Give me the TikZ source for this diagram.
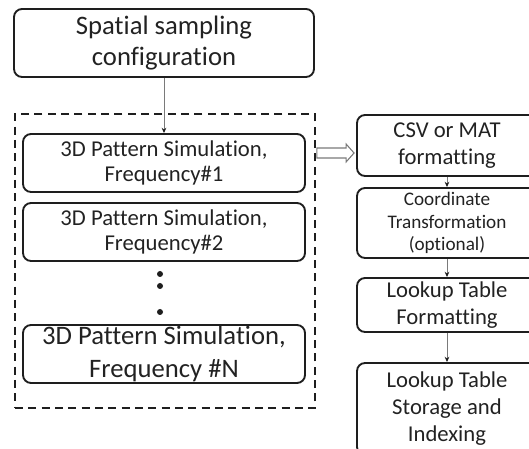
\documentclass[tikz,border=0pt]{standalone}
\usepackage{fontspec}
\setmainfont{Carlito}[Ligatures={NoCommon}]
\usetikzlibrary{arrows.meta,calc}

\definecolor{ink}{HTML}{1E1E1E}
\definecolor{txt}{HTML}{222222}
\definecolor{wire}{HTML}{7A7A7A}

\tikzset{
  box/.style={draw=ink, line width=1.4pt, rounded corners=6pt, align=center,
    text=txt, inner sep=0pt, anchor=center},
  group/.style={draw=ink, line width=1.4pt, dash pattern=on 6pt off 4pt, inner sep=0pt},
  link/.style={draw=wire, line width=0.6pt, -{Stealth[length=4pt,width=3.5pt,color=ink]}},
  hollow/.style={draw=wire, line width=0.8pt, fill=white, line join=miter},
  dot/.style={circle, fill=ink, inner sep=0pt, minimum size=4.5pt},
}

\begin{document}
\begin{tikzpicture}[x=0.75pt, y=-0.75pt]
\useasboundingbox (0,0) rectangle (529,449);
\clip (0,0) rectangle (529,449);

% source block
\node[box, minimum width=225pt, minimum height=51pt,
      font=\fontsize{20}{23}\selectfont] (cfg) at (164,43)
  {Spatial sampling\\configuration};

% dashed group holding the per-frequency simulations
\node[group, minimum width=225pt, minimum height=220.5pt] (grp) at (165,261) {};

\node[box, minimum width=211.5pt, minimum height=43.5pt,
      font=\fontsize{17}{18.75}\selectfont] (f1) at (164,163)
  {3D Pattern Simulation,\\Frequency\#1};
\node[box, minimum width=211.5pt, minimum height=43.5pt,
      font=\fontsize{17}{18.75}\selectfont] (f2) at (164,232)
  {3D Pattern Simulation,\\Frequency\#2};
\node[box, minimum width=211.5pt, minimum height=43.5pt,
      font=\fontsize{20}{24.75}\selectfont] (fn) at (164,354)
  {3D Pattern Simulation,\\Frequency \#N};

\node[dot] (d1) at (160,274) {};
\node[dot] (d2) at (160,286) {};
\node[dot] (d3) at (160,312) {};

% processing chain on the right
\node[box, minimum width=135pt, minimum height=45.75pt,
      font=\fontsize{17}{20.25}\selectfont] (csv) at (447,145.5)
  {CSV or MAT\\formatting};
\node[box, minimum width=135pt, minimum height=52.5pt,
      font=\fontsize{14.4}{16.9}\selectfont] (crd) at (447,223)
  {Coordinate\\Transformation\\(optional)};
\node[box, minimum width=135pt, minimum height=40.5pt,
      font=\fontsize{17}{20.25}\selectfont] (ltf) at (447,305)
  {Lookup Table\\Formatting};
\node[box, minimum width=135pt, minimum height=69pt,
      font=\fontsize{17}{20.25}\selectfont] (lts) at (447,409)
  {Lookup Table\\Storage and\\Indexing};

% connectors
\draw[link] (cfg.south) -- (f1.north);
\draw[link] (csv.south) -- (crd.north);
\draw[link] (crd.south) -- (ltf.north);
\draw[link] (ltf.south) -- (lts.north);

% hollow block arrow from the group to the formatting step
\coordinate (hy) at (0,153);
\coordinate (ha) at (grp.east |- hy);
\coordinate (hb) at (csv.west |- hy);
\draw[hollow] ($(ha)+(1,-5)$) -- ($(hb)+(-10,-5)$) -- ($(hb)+(-10,-9)$)
  -- ($(hb)+(-2,0)$) -- ($(hb)+(-10,9)$) -- ($(hb)+(-10,5)$)
  -- ($(ha)+(1,5)$) -- cycle;
\end{tikzpicture}
\end{document}
